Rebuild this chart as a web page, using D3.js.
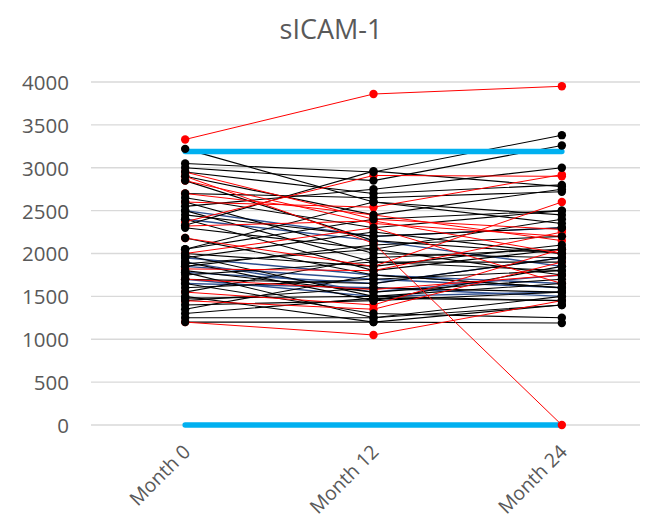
<!DOCTYPE html>
<html>
<head>
<meta charset="utf-8">
<script src="https://cdn.jsdelivr.net/npm/d3@7/dist/d3.min.js"></script>
<style>
html,body{margin:0;padding:0;background:#fff;}
svg{display:block;font-family:"Open Sans",sans-serif;}
</style>
</head>
<body>
<svg id="chart" width="646" height="525"></svg>
<script>
const title = "sICAM-1";
const categories = ["Month 0", "Month 12", "Month 24"];
const yTicks = [0, 500, 1000, 1500, 2000, 2500, 3000, 3500, 4000];

// Per-subject values (one entry per subject, same order in each array)
const month0  = [1850,1780,1700,1900,2400,1650,1950,2500,
  3220,3050,2950,3000,2900,2850,2700,2650,2600,2550,2500,2450,2400,2330,2300,2180,2050,2000,1980,1950,1900,1850,1800,1780,1750,1700,1650,1600,1550,1500,1480,1450,1400,1350,1300,1250,1200,2050,1880,
  3330,2900,2370,2950,2850,2700,2600,2180,2320,1820,1700,1550,1200,2000,1450];
const month12 = [1700,1650,1500,1550,2150,1600,1750,2200,
  2600,2950,2700,2850,2450,2150,2650,2300,2000,2750,1900,2200,1800,2960,2050,1750,2600,1850,1500,2250,1450,2100,1550,1250,1900,1650,1300,1700,1950,1200,1500,1600,1450,1750,1480,1250,1200,2400,2050,
  3860,2120,2910,2400,2350,2450,2540,1850,2380,1800,1580,1400,1050,2300,1350];
const month24 = [1600,1950,1550,1750,1850,1500,1650,2300,
  2450,3380,2800,3260,2750,2000,2720,2500,1950,3000,1800,2300,2050,2780,2400,1600,2350,2100,1450,2000,1550,2200,1700,1400,1900,1950,1250,1800,2050,1190,1650,1550,1850,1600,1450,1500,1400,2500,1750,
  3950,0,2900,2280,2200,2150,2920,2600,2000,2250,1750,2050,1450,1650,1900];
// colour group per subject: "b" navy, "k" black, "r" red
const seriesColor = ["b","b","b","b","b","b","b","b",
  "k","k","k","k","k","k","k","k","k","k","k","k","k","k","k","k","k","k","k","k","k","k","k","k","k","k","k","k","k","k","k","k","k","k","k","k","k","k","k",
  "r","r","r","r","r","r","r","r","r","r","r","r","r","r","r"];
// reference lines (thick light-blue)
const refLineValues = [3190, 0];

const colorMap = {b:"#2F4F8F", k:"#000000", r:"#FF0000"};
const widthMap = {b:1.4, k:1.1, r:1};

const svg = d3.select("#chart");
const plotLeft = 91, plotRight = 656, plotTop = 82, plotBottom = 425, gridRight = 640;

const x = d3.scalePoint().domain(categories).range([plotLeft, plotRight]).padding(0.5);
const y = d3.scaleLinear().domain([0, 4000]).range([plotBottom, plotTop]);

svg.append("text").attr("x", 331).attr("y", 39).attr("text-anchor", "middle")
  .attr("font-size", 27).attr("fill", "#595959").text(title);

// gridlines
svg.append("g").selectAll("line").data(yTicks).join("line")
  .attr("x1", plotLeft).attr("x2", gridRight)
  .attr("y1", d => y(d)).attr("y2", d => y(d))
  .attr("stroke", "#d9d9d9").attr("stroke-width", 1.3);

// y axis labels
const yAxis = d3.axisLeft(y).tickValues(yTicks).tickFormat(d3.format("d")).tickSize(0).tickPadding(0);
const gy = svg.append("g").attr("transform", "translate(69,0)").call(yAxis);
gy.select(".domain").remove();
gy.selectAll("text").attr("font-size", 20.5).attr("fill", "#595959")
  .attr("font-family", "'Open Sans',sans-serif").attr("dy", "0.36em");

// x axis labels
const xAxis = d3.axisBottom(x).tickSize(0).tickPadding(0);
const gx = svg.append("g").attr("transform", `translate(0,${plotBottom})`).call(xAxis);
gx.select(".domain").remove();
gx.selectAll("text").attr("font-size", 19.5).attr("fill", "#595959")
  .attr("font-family", "'Open Sans',sans-serif")
  .attr("text-anchor", "end").attr("dy", null).attr("y", null)
  .attr("transform", "translate(6,28) rotate(-45)");

const subjects = month0.map((v, i) => ({
  vals: [month0[i], month12[i], month24[i]], c: seriesColor[i]
}));

const line = d3.line().x((d, i) => x(categories[i])).y(d => y(d));

const gs = svg.append("g");
subjects.forEach(s => {
  gs.append("path").attr("d", line(s.vals)).attr("fill", "none")
    .attr("stroke", colorMap[s.c]).attr("stroke-width", widthMap[s.c]);
});

// reference thick lines
svg.append("g").selectAll("path").data(refLineValues).join("path")
  .attr("d", v => line([v, v, v]))
  .attr("fill", "none").attr("stroke", "#00B0F0").attr("stroke-width", 5.5)
  .attr("stroke-linecap", "round");

// markers: red first, black on top
const gm = svg.append("g");
const order = subjects.slice().sort((a, b) => (a.c === "r" ? 0 : 1) - (b.c === "r" ? 0 : 1));
order.forEach(s => {
  gm.append("g").selectAll("circle").data(s.vals).join("circle")
    .attr("cx", (d, i) => x(categories[i])).attr("cy", d => y(d)).attr("r", 4.2)
    .attr("fill", s.c === "r" ? colorMap.r : "#000");
});
</script>
</body>
</html>
